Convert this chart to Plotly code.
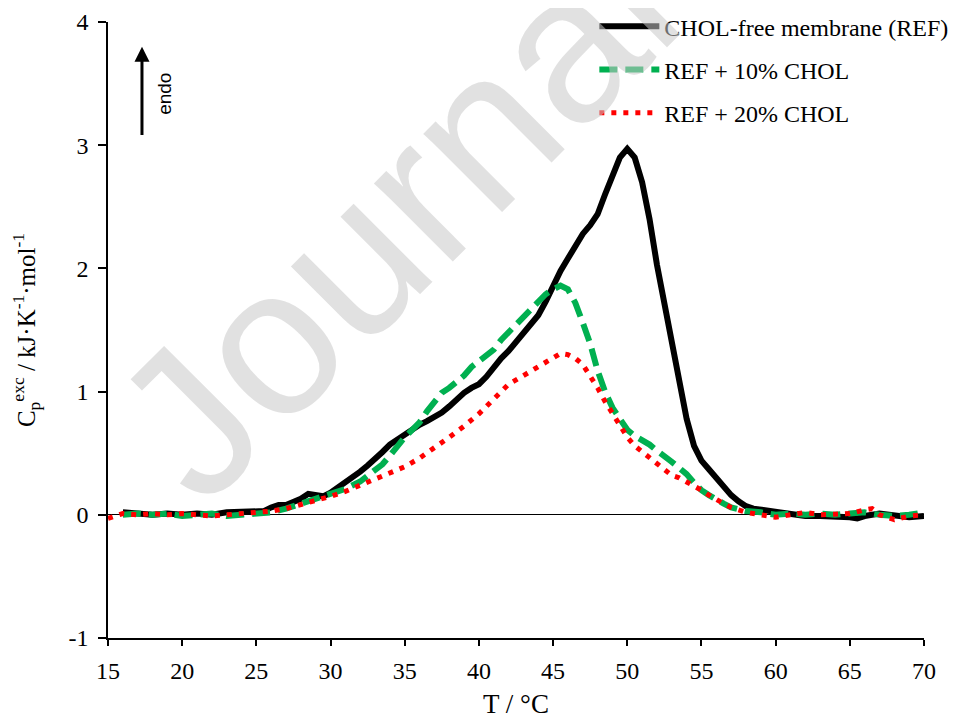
import plotly.graph_objects as go

# ---- data ----
T_ref = [16, 17, 18, 19, 20, 21, 22, 23, 24, 25, 25.5, 26, 26.5, 27, 27.5, 28, 28.5, 29, 29.5, 30,
         30.5, 31, 31.5, 32, 32.5, 33, 33.5, 34, 34.5, 35, 35.5, 36, 36.5, 37, 37.5, 38, 38.5, 39,
         39.5, 40, 40.5, 41, 41.5, 42, 42.5, 43, 43.5, 44, 44.5, 45, 45.5, 46, 46.5, 47, 47.5, 48,
         48.5, 49, 49.5, 50, 50.5, 51, 51.5, 52, 52.5, 53, 53.5, 54, 54.5, 55, 55.5, 56, 56.5, 57,
         57.5, 58, 58.5, 59, 60, 61, 62, 63, 64, 65, 65.5, 66, 67, 68, 69, 70]
Cp_ref = [0.02, 0.01, 0.00, 0.01, 0.00, 0.01, 0.00, 0.02, 0.02, 0.02, 0.03, 0.06, 0.08, 0.08, 0.10,
          0.13, 0.17, 0.16, 0.15, 0.18, 0.22, 0.27, 0.30, 0.35, 0.40, 0.45, 0.51, 0.57, 0.61, 0.65,
          0.70, 0.73, 0.76, 0.79, 0.83, 0.88, 0.94, 0.99, 1.03, 1.06, 1.12, 1.20, 1.27, 1.33, 1.40,
          1.48, 1.55, 1.62, 1.73, 1.87, 1.98, 2.08, 2.18, 2.28, 2.35, 2.44, 2.60, 2.76, 2.90, 2.97,
          2.90, 2.70, 2.40, 2.03, 1.73, 1.42, 1.08, 0.78, 0.56, 0.44, 0.37, 0.30, 0.23, 0.16, 0.11,
          0.07, 0.05, 0.04, 0.02, 0.00, -0.01, -0.01, -0.01, -0.02, -0.03, -0.01, 0.01, -0.01,
          -0.02, -0.01]

T_10 = [16, 17, 18, 19, 20, 21, 22, 23, 24, 25, 26, 27, 28, 29, 30, 31, 32, 33, 33.5, 34, 34.5, 35,
        35.5, 36, 36.5, 37, 37.5, 38, 38.5, 39, 39.5, 40, 40.5, 41, 41.5, 42, 42.5, 43, 43.5, 44,
        44.5, 45, 45.5, 46, 46.5, 47, 47.5, 48, 48.5, 49, 49.5, 50, 50.5, 51, 51.5, 52, 52.5, 53,
        53.5, 54, 54.5, 55, 55.5, 56, 56.5, 57, 57.5, 58, 59, 60, 61, 62, 63, 64, 65, 66, 67, 68,
        69, 70]
Cp_10 = [0.00, 0.01, 0.00, 0.01, -0.01, 0.00, 0.01, -0.01, 0.00, 0.01, 0.02, 0.05, 0.09, 0.13, 0.17,
         0.21, 0.27, 0.36, 0.41, 0.48, 0.56, 0.63, 0.69, 0.75, 0.84, 0.92, 0.99, 1.03, 1.08, 1.13,
         1.20, 1.25, 1.30, 1.34, 1.42, 1.48, 1.54, 1.60, 1.66, 1.73, 1.79, 1.83, 1.86, 1.83, 1.72,
         1.56, 1.39, 1.17, 1.00, 0.87, 0.77, 0.69, 0.64, 0.61, 0.57, 0.52, 0.48, 0.43, 0.38, 0.33,
         0.26, 0.20, 0.16, 0.12, 0.09, 0.06, 0.04, 0.03, 0.02, 0.00, 0.01, 0.00, 0.01, 0.00, 0.01,
         0.02, 0.00, -0.01, 0.00, 0.02]

T_20 = [15, 15.5, 16, 17, 18, 19, 20, 21, 22, 23, 24, 25, 26, 27, 28, 29, 30, 31, 32, 33, 34, 35,
        36, 37, 38, 39, 40, 41, 42, 43, 44, 45, 45.5, 46, 46.5, 47, 47.5, 48, 48.5, 49, 49.5, 50,
        50.5, 51, 51.5, 52, 52.5, 53, 53.5, 54, 54.5, 55, 55.5, 56, 56.5, 57, 57.5, 58, 59, 60, 61,
        62, 63, 64, 65, 66, 66.5, 67, 68, 69, 70]
Cp_20 = [-0.03, -0.01, 0.01, 0.00, 0.01, 0.00, 0.01, 0.00, -0.01, 0.00, 0.01, 0.01, 0.03, 0.05,
         0.08, 0.12, 0.15, 0.19, 0.24, 0.29, 0.34, 0.39, 0.46, 0.54, 0.63, 0.72, 0.82, 0.94, 1.06,
         1.13, 1.20, 1.28, 1.31, 1.30, 1.27, 1.22, 1.13, 1.03, 0.92, 0.82, 0.73, 0.63, 0.56, 0.51,
         0.47, 0.42, 0.37, 0.32, 0.30, 0.27, 0.24, 0.20, 0.16, 0.12, 0.09, 0.06, 0.04, 0.02, 0.00,
         -0.02, 0.00, 0.02, 0.00, 0.00, 0.01, 0.04, 0.05, 0.00, -0.04, -0.01, 0.00]

series_names = ["CHOL-free membrane (REF)", "REF + 10% CHOL", "REF + 20% CHOL"]
x_ticks = [15, 20, 25, 30, 35, 40, 45, 50, 55, 60, 65, 70]
y_ticks = [-1, 0, 1, 2, 3, 4]
y_ticktext = ["-1", "0", "1", "2", "3", "4"]

SERIF = "Liberation Serif, Times New Roman, serif"

fig = go.Figure()
fig.add_trace(go.Scatter(x=T_ref, y=Cp_ref, mode="lines", name=series_names[0],
                         legendgroup="a", line=dict(color="black", width=6)))
fig.add_trace(go.Scatter(x=T_10, y=Cp_10, mode="lines", name=series_names[1],
                         legendgroup="b", line=dict(color="#00b050", width=6, dash="18px,8px")))
fig.add_trace(go.Scatter(x=T_20, y=Cp_20, mode="lines", name=series_names[2],
                         legendgroup="c", line=dict(color="#ff0000", width=5, dash="5px,7px")))

fig.update_layout(
    width=962, height=715,
    margin=dict(l=100, r=46, t=14, b=85, autoexpand=False),
    paper_bgcolor="white", plot_bgcolor="white",
    font=dict(family=SERIF, size=24, color="black"),
    showlegend=True,
    legend=dict(x=0.596, y=1.029, xanchor="left", yanchor="top",
                font=dict(family=SERIF, size=24, color="black"),
                bgcolor="rgba(0,0,0,0)", itemwidth=60, tracegroupgap=9),
    xaxis=dict(range=[15, 70], tickvals=x_ticks, ticks="outside", ticklen=6,
               tickwidth=1.5, tickcolor="black", showline=True, linecolor="black",
               linewidth=1.5, showgrid=False, zeroline=False, automargin=False,
               ticklabelstandoff=4,
               tickfont=dict(family=SERIF, size=24),
               title=dict(text="T / °C", font=dict(family=SERIF, size=27), standoff=12)),
    yaxis=dict(range=[-1, 4], tickvals=y_ticks, ticktext=y_ticktext, ticks="outside",
               ticklen=8, tickwidth=1.5, tickcolor="black", showline=True,
               linecolor="black", linewidth=1.5, showgrid=False, zeroline=True,
               zerolinecolor="black", zerolinewidth=1.2, automargin=False,
               ticklabelstandoff=5,
               tickfont=dict(family=SERIF, size=24),
               title=dict(text="C<sub>p</sub><sup>exc</sup> / kJ·K<sup>-1</sup>·mol<sup>-1</sup>",
                          font=dict(family=SERIF, size=25), standoff=27)),
)

# watermark
fig.add_annotation(text="Journal", xref="paper", yref="paper", x=0.352, y=0.684,
                   xanchor="center", yanchor="middle",
                   showarrow=False, textangle=-45,
                   font=dict(family="Liberation Sans, Arial, sans-serif", size=210,
                             color="rgba(200,200,200,0.55)"))

# "endo" arrow
fig.add_annotation(x=17.29, y=3.80, ax=17.29, ay=3.07, xref="x", yref="y",
                   axref="x", ayref="y", text="", showarrow=True, arrowhead=2,
                   arrowsize=1, arrowwidth=3, arrowcolor="black", standoff=0)
fig.add_annotation(x=18.8, y=3.42, xref="x", yref="y", text="endo", showarrow=False,
                   textangle=-90,
                   font=dict(family="Liberation Sans Narrow, Liberation Sans, Arial, sans-serif",
                             size=19, color="black"))

fig.write_html("out.html")
